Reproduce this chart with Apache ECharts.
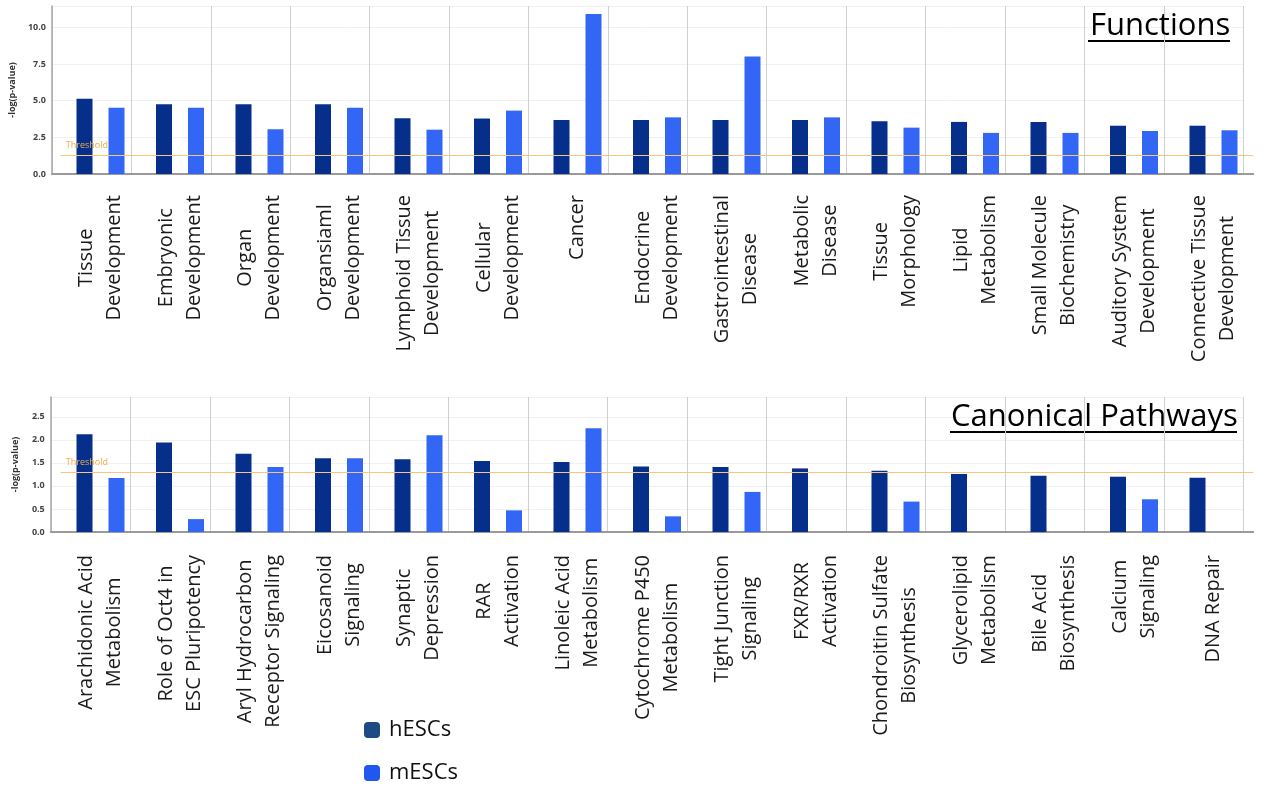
<!DOCTYPE html>
<html>
<head>
<meta charset="utf-8">
<script src="https://cdn.jsdelivr.net/npm/echarts@6/dist/echarts.min.js"></script>
<style>
  html, body { margin: 0; padding: 0; background: #fff; }
  #main { width: 1266px; height: 787px; }
</style>
</head>
<body>
<div id="main"></div>
<script>
// Functions (top panel)
var funcCategories = [
  'Tissue\nDevelopment', 'Embryonic\nDevelopment', 'Organ\nDevelopment', 'Organsiaml\nDevelopment',
  'Lymphoid Tissue\nDevelopment', 'Cellular\nDevelopment', 'Cancer', 'Endocrine\nDevelopment',
  'Gastrointestinal\nDisease', 'Metabolic\nDisease', 'Tissue\nMorphology', 'Lipid\nMetabolism',
  'Small Molecule\nBiochemistry', 'Auditory System\nDevelopment', 'Connective Tissue\nDevelopment'
];
var funcHESC = [5.13, 4.75, 4.75, 4.75, 3.80, 3.78, 3.68, 3.68, 3.68, 3.68, 3.59, 3.55, 3.55, 3.29, 3.29];
var funcMESC = [4.52, 4.52, 3.05, 4.52, 3.02, 4.32, 10.9, 3.86, 8.00, 3.86, 3.16, 2.80, 2.80, 2.93, 2.98];
var funcTicks = [0, 2.5, 5, 7.5, 10];

// Canonical pathways (bottom panel)
var pathCategories = [
  'Arachidonic Acid\nMetabolism', 'Role of Oct4 in\nESC Pluripotency', 'Aryl Hydrocarbon\nReceptor Signaling',
  'Eicosanoid\nSignaling', 'Synaptic\nDepression', 'RAR\nActivation', 'Linoleic Acid\nMetabolism',
  'Cytochrome P450\nMetabolism', 'Tight Junction\nSignaling', 'FXR/RXR\nActivation',
  'Chondroitin Sulfate\nBiosynthesis', 'Glycerolipid\nMetabolism', 'Bile Acid\nBiosynthesis',
  'Calcium\nSignaling', 'DNA Repair'
];
var pathHESC = [2.12, 1.94, 1.70, 1.60, 1.58, 1.54, 1.52, 1.42, 1.41, 1.38, 1.33, 1.26, 1.22, 1.20, 1.18];
var pathMESC = [1.17, 0.28, 1.41, 1.60, 2.10, 0.47, 2.25, 0.34, 0.87, null, 0.66, null, null, 0.71, null];
var pathTicks = [0, 0.5, 1, 1.5, 2, 2.5];

var threshold = 1.3;
var seriesNames = ['hESCs', 'mESCs'];

var FONT = 'Open Sans';
var barColors = ['#062f8c', '#3366f5'];
var legendColors = ['#1e4a86', '#2157ee'];

var chart = echarts.init(document.getElementById('main'));

var catW = 79.5;
var barLeft = 60.75, frameLeft = 50.75, plotW = catW * 15;

function catAxis(grid, data, margin) {
  return {
    type: 'category', gridIndex: grid, data: data,
    axisLine: { show: true, lineStyle: { color: '#9a9a9a', width: 2 } },
    axisTick: { show: false },
    splitLine: { show: false },
    axisLabel: {
      rotate: 90, margin: margin, interval: 0,
      formatter: function (v) {
        return v.split('\n').map(function (s) { return '{c|' + s + '}'; }).join('\n');
      },
      rich: { c: { align: 'center', fontSize: 20, lineHeight: 28, fontFamily: FONT, color: '#1a1a1a' } }
    }
  };
}

// frame axes: vertical separators + top / bottom lines
function frameTop(grid) {
  return {
    type: 'value', gridIndex: grid, position: 'top', min: 0, max: 15, interval: 1,
    axisLabel: { show: false }, axisTick: { show: false },
    axisLine: { show: true, lineStyle: { color: '#dadada', width: 1.5 } },
    splitLine: { show: true, lineStyle: { color: '#cfcfcf', width: 1 } }
  };
}
function frameBottom(grid) {
  return {
    type: 'value', gridIndex: grid, position: 'bottom', min: 0, max: 15, interval: 1,
    axisLabel: { show: false }, axisTick: { show: false },
    axisLine: { show: true, lineStyle: { color: '#9a9a9a', width: 2 } },
    splitLine: { show: false }
  };
}

function hiddenY(grid, max) {
  return { type: 'value', gridIndex: grid, min: 0, max: max, show: false };
}
function frameY(grid, max, interval, ticks) {
  return {
    type: 'value', gridIndex: grid, min: 0, max: max, interval: interval,
    name: '-log(p-value)', nameLocation: 'middle', nameGap: 31, nameRotate: 90,
    nameTextStyle: { fontSize: 9, fontWeight: 'bold', color: '#333', fontFamily: FONT },
    axisLine: { show: true, lineStyle: { color: '#a8a8a8', width: 1.5 } },
    axisTick: { show: false },
    axisLabel: {
      margin: 6, fontSize: 9, fontWeight: 'bold', color: '#444', fontFamily: FONT,
      showMaxLabel: false,
      formatter: function (v) { return ticks.indexOf(v) >= 0 ? v.toFixed(1) : ''; }
    },
    splitLine: { show: true, lineStyle: { color: '#f1f1f1', width: 1 } }
  };
}

var thresholdLine = {
  silent: true, symbol: 'none',
  lineStyle: { color: '#f5c67c', width: 1, type: 'solid' },
  label: { show: true, position: 'insideStartTop', formatter: 'Threshold', color: '#f0ad45', fontSize: 9, fontFamily: FONT },
  data: [{ yAxis: threshold }]
};

function bars(name, data, xIdx, yIdx, color, withThreshold) {
  var s = {
    name: name, type: 'bar', xAxisIndex: xIdx, yAxisIndex: yIdx, data: data,
    barWidth: 16, barGap: '100%',
    itemStyle: { color: color },
    emphasis: { disabled: true }
  };
  if (withThreshold) s.markLine = thresholdLine;
  return s;
}

var option = {
  animation: false,
  textStyle: { fontFamily: FONT },
  title: [
    { text: 'Functions', left: 1085, top: 6, textStyle: { fontSize: 31, fontWeight: 'normal', color: '#000', fontFamily: FONT } },
    { text: 'Canonical Pathways', left: 946, top: 397, textStyle: { fontSize: 31, fontWeight: 'normal', color: '#000', fontFamily: FONT } }
  ],
  legend: {
    orient: 'vertical', left: 364, top: 718, padding: 0,
    itemWidth: 16, itemHeight: 16, itemGap: 19, icon: 'roundRect',
    textStyle: { fontSize: 22, lineHeight: 24, color: '#111', fontFamily: FONT, padding: [0, 0, 0, 4] },
    data: [
      { name: seriesNames[0], itemStyle: { color: legendColors[0] } },
      { name: seriesNames[1], itemStyle: { color: legendColors[1] } }
    ]
  },
  grid: [
    { left: barLeft, width: plotW, top: 6, height: 168 },
    { left: frameLeft, width: plotW, top: 6, height: 168 },
    { left: barLeft, width: plotW, top: 397, height: 135 },
    { left: frameLeft, width: plotW, top: 397, height: 135 }
  ],
  xAxis: [
    catAxis(0, funcCategories, 21),
    frameTop(1),
    frameBottom(1),
    catAxis(2, pathCategories, 23),
    frameTop(3),
    frameBottom(3)
  ],
  yAxis: [
    hiddenY(0, 11.45),
    frameY(1, 11.45, 2.5, funcTicks),
    hiddenY(2, 2.93),
    frameY(3, 2.93, 0.5, pathTicks)
  ],
  series: [
    bars(seriesNames[0], funcHESC, 0, 0, barColors[0], true),
    bars(seriesNames[1], funcMESC, 0, 0, barColors[1], false),
    bars(seriesNames[0], pathHESC, 3, 2, barColors[0], true),
    bars(seriesNames[1], pathMESC, 3, 2, barColors[1], false)
  ],
  graphic: [
    { type: 'line', shape: { x1: 1088, y1: 41, x2: 1230, y2: 41 }, style: { stroke: '#000', lineWidth: 2 } },
    { type: 'line', shape: { x1: 950, y1: 432, x2: 1237, y2: 432 }, style: { stroke: '#000', lineWidth: 2 } }
  ]
};

chart.setOption(option);
</script>
</body>
</html>
